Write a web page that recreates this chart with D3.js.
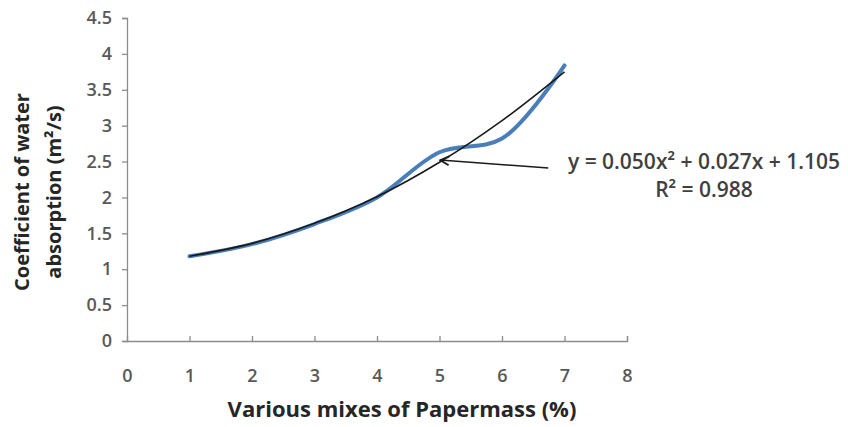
<!DOCTYPE html>
<html>
<head>
<meta charset="utf-8">
<script src="https://cdn.jsdelivr.net/npm/d3@7"></script>
<style>
  body { margin: 0; background: #fff; }
  text { font-family: "Open Sans", "Liberation Sans", sans-serif; }
</style>
</head>
<body>
<svg width="848" height="427"></svg>
<script>
// mixes of papermass (%) and measured coefficient
var mixes = [1, 2, 3, 4, 5, 6, 7];
var coeff = [1.18, 1.35, 1.63, 2.0, 2.63, 2.82, 3.84];
// trendline values
var trend = [1.18, 1.36, 1.64, 2.01, 2.49, 3.07, 3.75];
var xTicks = [0, 1, 2, 3, 4, 5, 6, 7, 8];
var yTicks = [0, 0.5, 1, 1.5, 2, 2.5, 3, 3.5, 4, 4.5];
var eqLine1 = "y = 0.050x² + 0.027x + 1.105";
var eqLine2 = "R² = 0.988";
var arrowFrom = [6.74, 2.41], arrowTo = [5.01, 2.52];

var svg = d3.select("svg");
var x = d3.scaleLinear().domain([0, 8]).range([127, 627]);
var y = d3.scaleLinear().domain([0, 4.5]).range([341, 18]);

// axes
var gx = svg.append("g").attr("transform", "translate(0," + y(0) + ")")
  .call(d3.axisBottom(x).tickValues(xTicks).tickSize(-5).tickPadding(0).tickFormat(d3.format("d")));
gx.selectAll("text").attr("dy", "2.3em");
var gy = svg.append("g").attr("transform", "translate(" + x(0) + ",0)")
  .call(d3.axisLeft(y).tickValues(yTicks).tickSize(5).tickPadding(10).tickFormat(function(d) { return d; }));
[gx, gy].forEach(function(g) {
  g.select(".domain").attr("stroke", "#8c8c8c").attr("stroke-width", 1.3);
  g.selectAll(".tick line").attr("stroke", "#8c8c8c").attr("stroke-width", 1.3);
  g.selectAll(".tick text").attr("fill", "#595959").style("font-size", "18px").style("font-weight", "600");
});
gx.selectAll(".tick").filter(function(d) { return d === 0; }).select("line").remove();

// data line
var line = d3.line().curve(d3.curveCatmullRom.alpha(0.5))
  .x(function(d, i) { return x(mixes[i]); })
  .y(function(d) { return y(d); });
svg.append("path").attr("d", line(coeff))
  .attr("fill", "none").attr("stroke", "#4a7ebb").attr("stroke-width", 4).attr("stroke-linecap", "round");
svg.append("path").attr("d", line(trend))
  .attr("fill", "none").attr("stroke", "#1a1a1a").attr("stroke-width", 1.6);

// arrow
svg.append("defs").append("marker").attr("id", "ah")
  .attr("viewBox", "0 0 10 10").attr("refX", 9).attr("refY", 5)
  .attr("markerUnits", "userSpaceOnUse")
  .attr("markerWidth", 11).attr("markerHeight", 11).attr("orient", "auto")
  .append("path").attr("d", "M1,1 L9,5 L1,9").attr("fill", "none").attr("stroke", "#1a1a1a").attr("stroke-width", 1.6);
svg.append("line")
  .attr("x1", x(arrowFrom[0])).attr("y1", y(arrowFrom[1]))
  .attr("x2", x(arrowTo[0])).attr("y2", y(arrowTo[1]))
  .attr("stroke", "#1a1a1a").attr("stroke-width", 1.5).attr("marker-end", "url(#ah)");

svg.append("text").attr("x", 704).attr("y", 169).attr("text-anchor", "middle")
  .attr("fill", "#404040").style("font-size", "21px").style("font-weight", "600").text(eqLine1);
svg.append("text").attr("x", 704).attr("y", 197).attr("text-anchor", "middle")
  .attr("fill", "#404040").style("font-size", "21px").style("font-weight", "600").text(eqLine2);

// titles
svg.append("text").attr("x", 402).attr("y", 417).attr("text-anchor", "middle")
  .attr("fill", "#262626").style("font-size", "22px").style("font-weight", "bold")
  .text("Various mixes of Papermass (%)");
var yt = svg.append("text").attr("transform", "translate(0,192) rotate(-90)")
  .attr("text-anchor", "middle").attr("fill", "#262626")
  .style("font-size", "20px").style("font-weight", "bold");
yt.append("tspan").attr("x", 0).attr("y", 29).text("Coefficient of water");
yt.append("tspan").attr("x", 0).attr("y", 61).text("absorption   (m²/s)");
</script>
</body>
</html>
